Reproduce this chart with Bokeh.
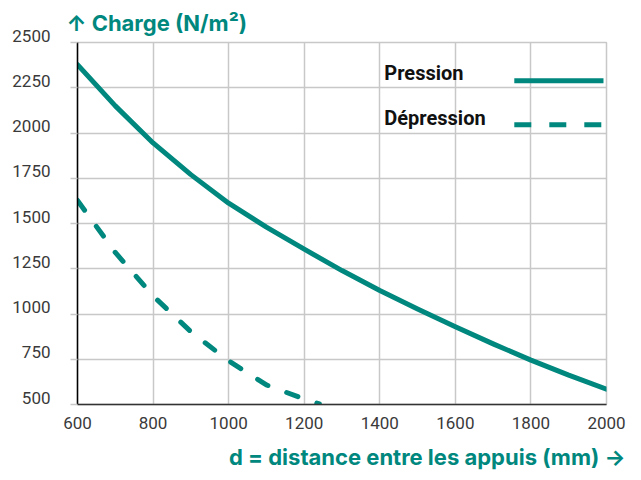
from bokeh.plotting import figure
from bokeh.models import Range1d, FixedTicker, Title, ColumnDataSource
from bokeh.core.properties import value
from bokeh.embed import file_html
from bokeh.resources import INLINE

# ---- data ----
distance_pression = [600, 700, 800, 900, 1000, 1100, 1200, 1300, 1400, 1500, 1600, 1700, 1800, 1900, 2000]
charge_pression = [2378, 2150, 1945, 1770, 1612, 1480, 1358, 1240, 1130, 1028, 930, 835, 745, 662, 585]

distance_depression = [600, 700, 800, 900, 1000, 1100, 1200, 1240]
charge_depression = [1627, 1340, 1100, 902, 741, 608, 530, 503]

x_ticks = [600, 800, 1000, 1200, 1400, 1600, 1800, 2000]
y_ticks = [500, 750, 1000, 1250, 1500, 1750, 2000, 2250, 2500]

series_names = ["Pression", "Dépression"]
title_text = "↑ Charge (N/m²)"
xlabel_text = "d = distance entre les appuis (mm) →"

TEAL = "#00877e"
FONT = "Roboto"
TITLE_FONT = "Inter"

p = figure(width=633, height=480, output_backend="svg", toolbar_location=None,
           x_range=Range1d(600, 2000), y_range=Range1d(500, 2500),
           min_border_left=77, min_border_right=27, min_border_top=42, min_border_bottom=76)
p.background_fill_color = "white"
p.border_fill_color = "white"
p.outline_line_color = "#c8c8c8"
p.outline_line_width = 1.5

# grid
for g in (p.xgrid, p.ygrid):
    g.grid_line_color = "#c8c8c8"
    g.grid_line_width = 1.5
p.xgrid.ticker = FixedTicker(ticks=x_ticks)
p.ygrid.ticker = FixedTicker(ticks=y_ticks)

# axes
p.xaxis.ticker = FixedTicker(ticks=x_ticks)
p.yaxis.ticker = FixedTicker(ticks=y_ticks)
for ax in (p.xaxis, p.yaxis):
    ax.major_label_text_font = FONT
    ax.major_label_text_font_size = "17px"
    ax.major_label_text_color = "#3a3a3a"
    ax.minor_tick_line_color = None
    ax.axis_line_width = 1.5
p.xaxis.axis_line_color = "#333333"
p.yaxis.axis_line_color = "#000000"
p.xaxis.major_tick_line_color = None
p.xaxis.major_tick_out = 0
p.xaxis.major_tick_in = 0
p.xaxis.major_label_standoff = 12
p.yaxis.major_tick_line_color = "#c8c8c8"
p.yaxis.major_tick_line_width = 1.5
p.yaxis.major_tick_out = 7
p.yaxis.major_tick_in = 0
p.yaxis.major_label_standoff = 20
# labels sit slightly above their grid line: add an empty second line
p.yaxis.major_label_overrides = {t: f"{t}\n " for t in y_ticks}
p.yaxis.major_label_text_line_height = 0.7

# curves
p.line(distance_pression, charge_pression, line_color=TEAL, line_width=5,
       line_cap="round", line_join="round")
p.line(distance_depression, charge_depression, line_color=TEAL, line_width=5,
       line_cap="round", line_join="round", line_dash="12 20")

# legend (drawn manually: label left, sample line right)
leg_text_x = 1412
leg_line_x = [1756, 1992]
leg_rows_y = [2288, 2045]
leg_text_y = [2329, 2082]
p.line(leg_line_x, [leg_rows_y[0]] * 2, line_color=TEAL, line_width=5)
p.line(leg_line_x, [leg_rows_y[1]] * 2, line_color=TEAL, line_width=5, line_dash="17 18")
src = ColumnDataSource(dict(x=[leg_text_x, leg_text_x], y=leg_text_y, t=series_names))
p.text(x="x", y="y", text="t", source=src, text_font=value(FONT), text_font_style="bold",
       text_font_size="20px", text_color="#111111", text_baseline="middle", text_align="left")

# titles
p.add_layout(Title(text=title_text, text_font=TITLE_FONT, text_font_style="bold",
                   text_font_size="22px", text_color=TEAL, align="left",
                   offset=-11, standoff=14), "above")
p.add_layout(Title(text=xlabel_text, text_font=TITLE_FONT, text_font_style="bold",
                   text_font_size="22px", text_color=TEAL, align="right",
                   offset=-19, standoff=21), "below")

open("out.html", "w").write(file_html(p, INLINE))
